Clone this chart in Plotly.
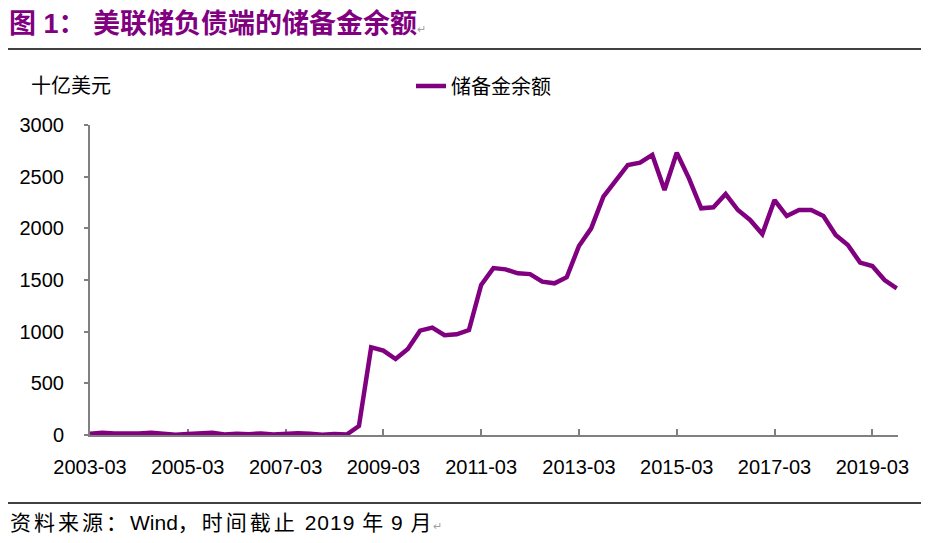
import plotly.graph_objects as go

# Quarterly categories 2003-03 ... 2019-09
quarters = [f"{y}-{m:02d}" for y in range(2003, 2020) for m in (3, 6, 9, 12)][:67]

reserves = [
    12, 22, 15, 12, 15, 22, 12, 2, 10, 12, 22, 5, 12, 8, 15, 5, 15, 18, 12, 2, 10, 5,
    87, 848, 816, 735, 832, 1010, 1039, 965, 974, 1016,
    1452, 1615, 1603, 1565, 1557, 1484, 1468, 1527,
    1829, 2000, 2306, 2468, 2613, 2635, 2710, 2371,
    2732, 2484, 2194, 2203, 2332, 2177, 2081, 1945,
    2274, 2119, 2177, 2177, 2119, 1935, 1839, 1668,
    1635, 1500, 1420,
]

tick_labels = ["2003-03", "2005-03", "2007-03", "2009-03", "2011-03",
               "2013-03", "2015-03", "2017-03", "2019-03"]
y_ticks = [0, 500, 1000, 1500, 2000, 2500, 3000]

series_name = "储备金余额"
title_text = "图 1：&nbsp;美联储负债端的储备金余额"
unit_text = "十亿美元"
source_parts = ["资料来源：", "Wind", "，时间截止", " 2019 年 9 月"]

PURPLE = "#800080"
GRAY = "#808080"
FONT = "Liberation Sans, Arial, Noto Sans CJK SC, sans-serif"

OFF = 8  # page body margin
W, H = 929, 543
plot_left, plot_right, plot_top, plot_bottom = 90, 898, 125, 435
L = plot_left - OFF
T = plot_top - OFF
R = W - (plot_right - OFF)
B = H - (plot_bottom - OFF)
pw, ph = plot_right - plot_left, plot_bottom - plot_top

def px(x):
    return (x - plot_left) / pw

def py(y):
    return (plot_bottom - y) / ph

PARA = "<span style='font-size:11px;color:#a0a0a0'>↵</span>"
source_html = (f"<span style='letter-spacing:3px'>{source_parts[0]}</span>{source_parts[1]}"
               f"<span style='letter-spacing:3px'>{source_parts[2]}</span>"
               f"<span style='letter-spacing:1px'>{source_parts[3]}</span>{PARA}")

fig = go.Figure()
fig.add_trace(go.Scatter(
    x=quarters, y=reserves, mode="lines", name=series_name,
    line=dict(color=PURPLE, width=4.5), cliponaxis=False,
))

fig.update_layout(
    width=W, height=H,
    margin=dict(l=L, r=R, t=T, b=B),
    paper_bgcolor="white", plot_bgcolor="white",
    font=dict(family=FONT, size=20, color="black"),
    showlegend=True,
    legend=dict(orientation="h", x=px(411), y=py(86), xanchor="left", yanchor="middle",
                font=dict(size=20, family="Noto Sans CJK SC, sans-serif"),
                bgcolor="rgba(0,0,0,0)"),
    xaxis=dict(
        type="category", range=[0, 66.1],
        tickmode="array", tickvals=tick_labels, ticktext=tick_labels,
        showline=True, linecolor=GRAY, linewidth=2,
        ticks="inside", ticklen=6, tickwidth=2, tickcolor=GRAY,
        showgrid=False, zeroline=False, layer="below traces",
        ticklabelstandoff=13, tickfont=dict(size=20),
    ),
    yaxis=dict(
        range=[0, 3000], tickmode="array", tickvals=y_ticks,
        showline=True, linecolor=GRAY, linewidth=2,
        ticks="outside", ticklen=4, tickwidth=2, tickcolor=GRAY,
        showgrid=False, zeroline=False, layer="below traces",
        ticklabelstandoff=16, tickfont=dict(size=20),
    ),
    shapes=[
        dict(type="line", xref="paper", yref="paper", x0=px(6), x1=px(926),
             y0=py(49), y1=py(49), line=dict(color="black", width=1.5)),
        dict(type="line", xref="paper", yref="paper", x0=px(6), x1=px(926),
             y0=py(503), y1=py(503), line=dict(color="black", width=1.5)),
    ],
    annotations=[
        dict(text=f"<b>{title_text}</b>{PARA}",
             xref="paper", yref="paper", x=px(8), y=py(24),
             xanchor="left", yanchor="middle", showarrow=False, borderpad=0,
             font=dict(size=27, color=PURPLE, family="Liberation Sans, Noto Sans CJK SC, sans-serif")),
        dict(text=unit_text, xref="paper", yref="paper", x=px(29), y=py(85),
             xanchor="left", yanchor="middle", showarrow=False,
             font=dict(size=20, family="Noto Sans CJK SC, sans-serif")),
        dict(text=source_html,
             xref="paper", yref="paper", x=px(8), y=py(522),
             xanchor="left", yanchor="middle", showarrow=False,
             font=dict(size=21, family="Liberation Sans, Noto Sans CJK SC, sans-serif")),
    ],
)

fig.write_html("out.html")
